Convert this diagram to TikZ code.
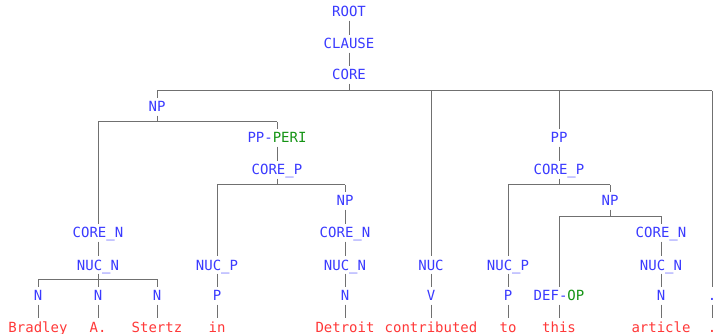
\documentclass[tikz,border=0pt]{standalone}
\usepackage{fontspec}
\newfontfamily\dvm{DejaVu Sans Mono}
\definecolor{lblue}{HTML}{3A3AFF}
\definecolor{lgreen}{HTML}{149414}
\definecolor{lred}{HTML}{FF3838}
\definecolor{edgegray}{HTML}{707070}
\begin{document}
\begin{tikzpicture}[x=1pt,y=-1pt,
  lbl/.style={anchor=base, inner xsep=1pt, inner ysep=3.5pt, text height=10pt, text depth=0pt,
              font=\dvm\fontsize{14}{16}\selectfont, text=lblue},
  wrd/.style={lbl, text=lred},
  conn/.style={draw=edgegray, line width=1pt}]
\useasboundingbox (0,0) rectangle (713,334);
\clip (0,0) rectangle (713,334);
\fill[white] (0,0) rectangle (713,334);
% labels
\node[lbl] (root) at (349,17) {ROOT};
\node[lbl] (clause) at (349,49) {CLAUSE};
\node[lbl] (core) at (349,80) {CORE};
\node[lbl] (np1) at (157,112) {NP};
\node[lbl] (pperi) at (277,143) {PP-\textcolor{lgreen}{PERI}};
\node[lbl] (corep1) at (277,175) {CORE\_P};
\node[lbl] (np2) at (345,206) {NP};
\node[lbl] (coren1) at (98,238) {CORE\_N};
\node[lbl] (coren2) at (345,238) {CORE\_N};
\node[lbl] (nucn1) at (98,270) {NUC\_N};
\node[lbl] (nucn2) at (345,270) {NUC\_N};
\node[lbl] (nucp1) at (217,270) {NUC\_P};
\node[lbl] (nuc) at (431,270) {NUC};
\node[lbl] (pp) at (559,143) {PP};
\node[lbl] (corep2) at (559,175) {CORE\_P};
\node[lbl] (np3) at (610,206) {NP};
\node[lbl] (nucp2) at (508,270) {NUC\_P};
\node[lbl] (coren3) at (661,238) {CORE\_N};
\node[lbl] (nucn3) at (661,270) {NUC\_N};
% preterminals
\node[lbl] (n1) at (38,301) {N};
\node[lbl] (n2) at (98,301) {N};
\node[lbl] (n3) at (157,301) {N};
\node[lbl] (p1) at (217,301) {P};
\node[lbl] (n4) at (345,301) {N};
\node[lbl] (v) at (431,301) {V};
\node[lbl] (p2) at (508,301) {P};
\node[lbl] (defop) at (559,301) {DEF-\textcolor{lgreen}{OP}};
\node[lbl] (n5) at (661,301) {N};
\node[lbl] (pu) at (712,301) {.};
% words
\node[wrd] (w1) at (38,332) {Bradley};
\node[wrd] (w2) at (98,332) {A.};
\node[wrd] (w3) at (157,332) {Stertz};
\node[wrd] (w4) at (217,332) {in};
\node[wrd] (w5) at (345,332) {Detroit};
\node[wrd] (w6) at (431,332) {contributed};
\node[wrd] (w7) at (508,332) {to};
\node[wrd] (w8) at (559,332) {this};
\node[wrd] (w9) at (661,332) {article};
\node[wrd] (w10) at (712,332) {.};
% bar coordinates
\coordinate (bcore) at (349,91);
\coordinate (bnp1) at (157,122);
\coordinate (bcp1) at (277,185);
\coordinate (bnn1) at (98,279);
\coordinate (bcp2) at (559,185);
\coordinate (bnp3) at (610,216.5);
% unary links
\draw[conn] (root.south) -- (clause.north);
\draw[conn] (clause.south) -- (core.north);
\draw[conn] (pperi.south) -- (corep1.north);
\draw[conn] (np2.south) -- (coren2.north);
\draw[conn] (coren2.south) -- (nucn2.north);
\draw[conn] (nucn2.south) -- (n4.north);
\draw[conn] (coren1.south) -- (nucn1.north);
\draw[conn] (nucp1.south) -- (p1.north);
\draw[conn] (nuc.south) -- (v.north);
\draw[conn] (pp.south) -- (corep2.north);
\draw[conn] (nucp2.south) -- (p2.north);
\draw[conn] (coren3.south) -- (nucn3.north);
\draw[conn] (nucn3.south) -- (n5.north);
\foreach \a/\b in {n1/w1,n2/w2,n3/w3,p1/w4,n4/w5,v/w6,p2/w7,defop/w8,n5/w9,pu/w10}
  \draw[conn] (\a.south) -- (\b.north);
% CORE bar
\draw[conn] (core.south) -- (bcore);
\draw[conn] (np1.north |- bcore) -- (pu.north |- bcore);
\foreach \c in {np1,nuc,pp,pu} \draw[conn] (\c.north |- bcore) -- (\c.north);
% NP bar
\draw[conn] (np1.south) -- (bnp1);
\draw[conn] (coren1.north |- bnp1) -- (pperi.north |- bnp1);
\foreach \c in {coren1,pperi} \draw[conn] (\c.north |- bnp1) -- (\c.north);
% CORE_P (left) bar
\draw[conn] (corep1.south) -- (bcp1);
\draw[conn] (nucp1.north |- bcp1) -- (np2.north |- bcp1);
\foreach \c in {nucp1,np2} \draw[conn] (\c.north |- bcp1) -- (\c.north);
% NUC_N bar
\draw[conn] (nucn1.south) -- (bnn1);
\draw[conn] (n1.north |- bnn1) -- (n3.north |- bnn1);
\foreach \c in {n1,n2,n3} \draw[conn] (\c.north |- bnn1) -- (\c.north);
% CORE_P (right) bar
\draw[conn] (corep2.south) -- (bcp2);
\draw[conn] (nucp2.north |- bcp2) -- (np3.north |- bcp2);
\foreach \c in {nucp2,np3} \draw[conn] (\c.north |- bcp2) -- (\c.north);
% NP (right) bar
\draw[conn] (np3.south) -- (bnp3);
\draw[conn] (defop.north |- bnp3) -- (coren3.north |- bnp3);
\foreach \c in {defop,coren3} \draw[conn] (\c.north |- bnp3) -- (\c.north);
\end{tikzpicture}
\end{document}
